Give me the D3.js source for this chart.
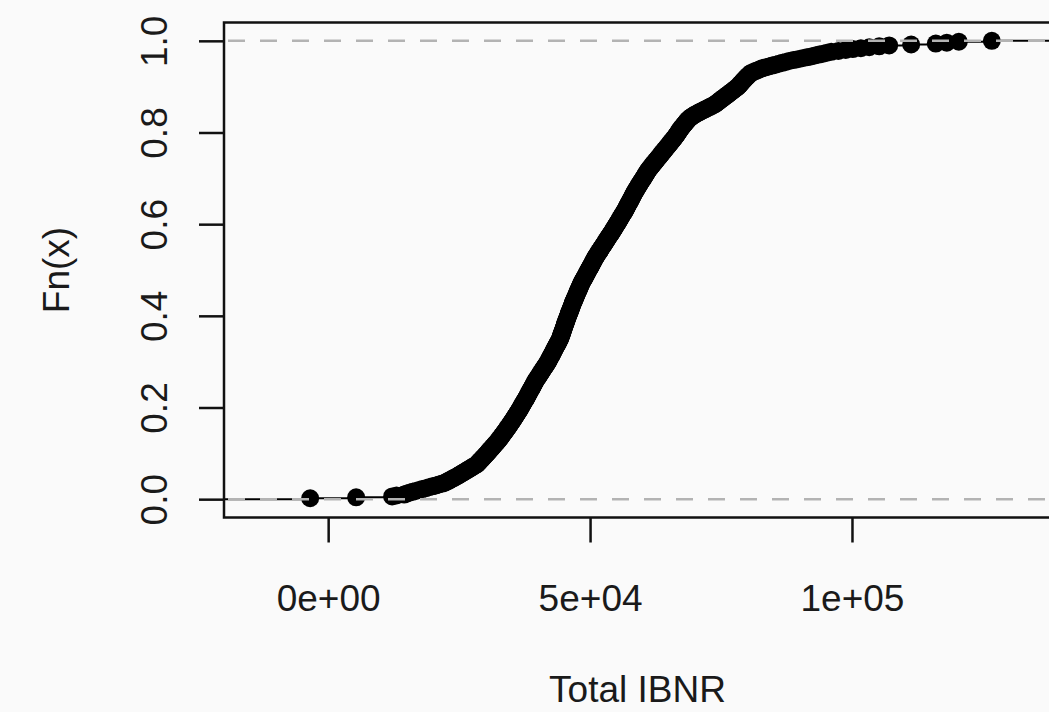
<!DOCTYPE html>
<html>
<head>
<meta charset="utf-8">
<script src="https://cdn.jsdelivr.net/npm/d3@7"></script>
<style>
  html, body { margin: 0; padding: 0; background: #fafafa; overflow: hidden; }
  svg { display: block; }
  text { font-family: "Liberation Sans", Arial, Helvetica, sans-serif; fill: #1a1a1a; }
</style>
</head>
<body>
<svg id="chart" width="1049" height="712"></svg>
<script>
// Simulated total IBNR outcomes (sorted), one per bootstrap run
const totalIbnr = [
  -3435, 5344,
  12210, 13050, 14500,
  14950, 15480, 16100, 16700, 17370,
  17980, 18650, 19240, 19900, 20560, 21150, 21800,
  22300, 22620, 22980, 23290, 23600, 23950, 24280, 24620,
  24900, 25200, 25480, 25790, 26070, 26360, 26650, 26940, 27230, 27510, 27800, 28100,
  28400, 28560, 28720, 28890, 29050, 29210, 29370, 29530, 29700, 29860, 30020, 30180, 30340,
  30500, 30650, 30800, 30960, 31110, 31260, 31420, 31570, 31720, 31870, 32020, 32180, 32330, 32480, 32630,
  32760, 32890, 33010, 33140, 33270, 33400, 33520, 33650, 33780, 33900, 34030, 34160, 34290, 34410, 34540,
  34660, 34770, 34890, 35000, 35120, 35230, 35350, 35460, 35570, 35690, 35800, 35920, 36030, 36150, 36260,
  36360, 36460, 36570, 36670, 36770, 36870, 36970, 37070, 37180, 37280, 37380, 37480, 37580, 37690, 37790,
  37880, 37980, 38070, 38170, 38260, 38360, 38450, 38550, 38640, 38740,
  38830, 38930, 39020, 39120, 39210, 39310, 39400, 39500, 39600, 39700,
  39810, 39930, 40040, 40160, 40270, 40390, 40500, 40620, 40730, 40850,
  40960, 41070, 41190, 41300, 41420, 41530, 41640, 41760, 41870, 41990,
  42080, 42170, 42260, 42350, 42440, 42540, 42630, 42720, 42810, 42900, 42990, 43080, 43170,
  43270, 43360, 43450, 43540, 43630, 43720, 43820, 43910, 44000, 44090, 44180, 44280,
  44340, 44400, 44460, 44520, 44580, 44640, 44700, 44760, 44820, 44880,
  44940, 45000, 45060, 45120, 45180, 45240, 45300, 45360, 45420, 45480,
  45550, 45610, 45680, 45740, 45810, 45880, 45940, 46010, 46070, 46140,
  46210, 46270, 46340, 46400, 46470, 46540, 46600, 46670, 46730, 46800,
  46880, 46950, 47030, 47100, 47180, 47250, 47330, 47400, 47480, 47550,
  47630, 47700, 47780, 47850, 47930, 48000, 48080, 48150, 48230, 48300,
  48400, 48490, 48590, 48680, 48780, 48870, 48970, 49060, 49160, 49250, 49350, 49440, 49540, 49630, 49730,
  49820, 49920, 50010, 50110, 50200, 50300, 50390, 50490, 50580, 50680, 50770, 50870, 50960, 51060, 51150,
  51260, 51380, 51490, 51610, 51720, 51840, 51950, 52060, 52180, 52290, 52410, 52520, 52630, 52750, 52860,
  52980, 53090, 53210, 53320, 53430, 53550, 53660, 53780, 53890, 54010, 54120, 54230, 54350, 54460, 54580,
  54680, 54790, 54890, 55000, 55100, 55210, 55310, 55420, 55520, 55630,
  55730, 55840, 55940, 56050, 56150, 56260, 56360, 56470, 56570, 56680,
  56770, 56870, 56960, 57050, 57140, 57240, 57330, 57420, 57520, 57610, 57700,
  57790, 57890, 57980, 58070, 58160, 58260, 58350, 58440, 58540, 58630, 58730,
  58830, 58940, 59050, 59160, 59270, 59380, 59490, 59600, 59710, 59820, 59930, 60040,
  60150, 60260, 60370, 60480, 60590, 60700, 60810, 60920, 61030, 61140, 61260,
  61400, 61540, 61680, 61830, 61970, 62110, 62250, 62390, 62540, 62680, 62820, 62960, 63100, 63250, 63390, 63530, 63670,
  63810, 63950, 64100, 64240, 64380, 64520, 64660, 64810, 64950, 65090, 65230, 65370, 65520, 65660, 65800, 65940, 66080, 66220,
  66340, 66460, 66580, 66700, 66820, 66940, 67060, 67180, 67300, 67430,
  67570, 67710, 67850, 67990, 68130, 68280, 68430, 68580, 68740, 68900,
  69100, 69330, 69580, 69860, 70160, 70480, 70810, 71150, 71500, 71850, 72200, 72550, 72900, 73250, 73580,
  73900, 74130, 74360, 74580, 74810, 75040, 75270, 75500, 75730, 75960,
  76190, 76420, 76650, 76870, 77100, 77330, 77560, 77790, 78020, 78250,
  78400, 78550, 78710, 78860, 79010, 79170, 79320,
  79480, 79660, 79840, 80010, 80190, 80370, 80550, 80730,
  81150, 81570, 81990, 82410, 82830,
  83470, 84110, 84760, 85400, 86040, 86690, 87330, 87980,
  88830, 89670, 90520, 91370,
  92180, 92940, 93700, 94470, 95230,
  96040, 97400, 98800, 100150, 101700, 103300, 105200,
  107100, 111300, 116000, 118100, 120400, 126700
];

const yTickValues = [0, 0.2, 0.4, 0.6, 0.8, 1.0];
const yTickLabels = ["0.0", "0.2", "0.4", "0.6", "0.8", "1.0"];
const xTickValues = [0, 50000, 100000];
const xTickLabels = ["0e+00", "5e+04", "1e+05"];
const xTitle = "Total IBNR";
const yTitle = "Fn(x)";

// Plot region (the right edge runs past the visible canvas)
const plot = { left: 224, right: 1078, top: 22.5, bottom: 517.5 };
const fontSize = 37;

const svg = d3.select("#chart");

const sorted = totalIbnr.slice().sort(d3.ascending);
const n = sorted.length;
const [lo, hi] = d3.extent(sorted);
// step-function x range: data range widened by 8%, then 4% axis padding
const dr = Math.max(0.08 * (hi - lo), d3.median(d3.pairs(sorted, (a, b) => b - a)));
const xlim = [lo - dr, hi + dr];
const pad = 0.04 * (xlim[1] - xlim[0]);

const x = d3.scaleLinear().domain([xlim[0] - pad, xlim[1] + pad]).range([plot.left, plot.right]);
const y = d3.scaleLinear().domain([-0.04, 1.04]).range([plot.bottom, plot.top]);

svg.append("defs").append("clipPath").attr("id", "plotClip")
  .append("rect")
  .attr("x", plot.left).attr("y", plot.top)
  .attr("width", plot.right - plot.left).attr("height", plot.bottom - plot.top);

const body = svg.append("g").attr("clip-path", "url(#plotClip)");

// horizontal steps of the empirical CDF (outer steps run past the frame and get clipped)
const steps = [{ x0: xlim[0] - dr, x1: sorted[0], f: 0 }];
sorted.forEach((v, i) => {
  steps.push({ x0: v, x1: i < n - 1 ? sorted[i + 1] : xlim[1] + dr, f: (i + 1) / n });
});
body.append("g").selectAll("line").data(steps).join("line")
  .attr("x1", d => x(d.x0)).attr("x2", d => x(d.x1))
  .attr("y1", d => y(d.f)).attr("y2", d => y(d.f))
  .attr("stroke", "#000").attr("stroke-width", 2);

// jump points
body.append("g").selectAll("circle").data(sorted).join("circle")
  .attr("cx", d => x(d))
  .attr("cy", (d, i) => y((i + 1) / n))
  .attr("r", 9)
  .attr("fill", "#000");

// reference lines at 0 and 1
body.append("g").selectAll("line").data([0, 1]).join("line")
  .attr("x1", plot.left).attr("x2", plot.right)
  .attr("y1", d => y(d)).attr("y2", d => y(d))
  .attr("stroke", "#b3b3b3").attr("stroke-width", 2.5)
  .attr("stroke-dasharray", "17 15").attr("stroke-dashoffset", -4);

// frame
svg.append("rect")
  .attr("x", plot.left).attr("y", plot.top)
  .attr("width", plot.right - plot.left).attr("height", plot.bottom - plot.top)
  .attr("fill", "none").attr("stroke", "#111").attr("stroke-width", 2.5);

// y axis
const yAxis = svg.append("g")
  .attr("transform", `translate(${plot.left},0)`)
  .call(d3.axisLeft(y).tickValues(yTickValues)
    .tickFormat((d, i) => yTickLabels[i]).tickSize(25).tickPadding(0));
yAxis.select(".domain").remove();
yAxis.selectAll(".tick line").attr("stroke", "#111").attr("stroke-width", 2.5);
yAxis.selectAll(".tick text")
  .attr("x", null).attr("dy", null)
  .attr("transform", "translate(-57,0) rotate(-90)")
  .attr("text-anchor", "middle")
  .style("font-size", fontSize + "px")
  .style("font-family", '"Liberation Sans", Arial, sans-serif')
  .attr("fill", "#1a1a1a");

// x axis
const xAxis = svg.append("g")
  .attr("transform", `translate(0,${plot.bottom})`)
  .call(d3.axisBottom(x).tickValues(xTickValues)
    .tickFormat((d, i) => xTickLabels[i]).tickSize(25).tickPadding(0));
xAxis.select(".domain").remove();
xAxis.selectAll(".tick line").attr("stroke", "#111").attr("stroke-width", 2.5);
xAxis.selectAll(".tick text")
  .attr("y", 93).attr("dy", null)
  .attr("text-anchor", "middle")
  .style("font-size", fontSize + "px")
  .style("font-family", '"Liberation Sans", Arial, sans-serif')
  .attr("fill", "#1a1a1a");

// axis titles
svg.append("text")
  .attr("x", (plot.left + 1049) / 2 + 1).attr("y", 702)
  .attr("text-anchor", "middle")
  .style("font-size", fontSize + "px")
  .text(xTitle);

svg.append("text")
  .attr("transform", `translate(69,${(plot.top + plot.bottom) / 2}) rotate(-90)`)
  .attr("text-anchor", "middle")
  .style("font-size", fontSize + "px")
  .text(yTitle);
</script>
</body>
</html>
